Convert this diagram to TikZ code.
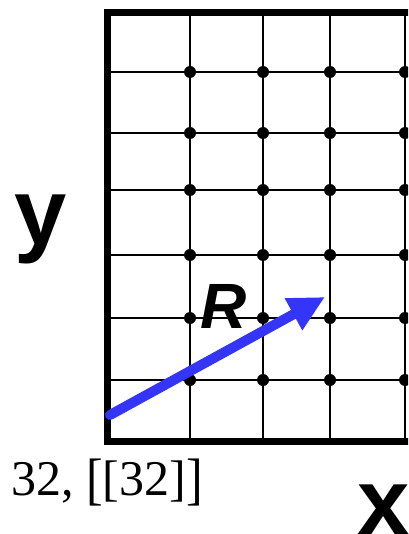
\documentclass[tikz,border=0pt]{standalone}
\usepackage{fontspec}
\setsansfont{Liberation Sans}
\newfontfamily\idxfont{Liberation Serif}
\usepackage{tikz}
\usetikzlibrary{arrows.meta}
\definecolor{vecblue}{HTML}{3535F7}
\newcommand{\tallbr}[1]{\raisebox{-3pt}{\scalebox{1}[1.14]{#1}}}
\tikzset{
  frame/.style={line width=7pt,black,line join=miter},
  gridline/.style={line width=2.7pt,black},
  vec/.style={-{Triangle[length=36pt,width=34pt]},line width=10pt,vecblue,line cap=round},
  axis/.style={font=\fontsize{94}{94}\selectfont\sffamily\bfseries,inner sep=0pt,anchor=base},
  vname/.style={font=\fontsize{64}{64}\selectfont\sffamily\bfseries\itshape,inner sep=0pt,anchor=base},
  idx/.style={font=\fontsize{50}{60}\selectfont\idxfont,inner sep=0pt,anchor=base west},
}

\begin{document}
\begin{tikzpicture}[x=1pt,y=-1pt]
\useasboundingbox (0,0) rectangle (408,534);
\clip (0,0) rectangle (408,534);
% lattice
\foreach \yy in {72,133,190,255,318,380} \draw[gridline] (107,\yy) -- (408,\yy);
\foreach \xx in {190,263,330,405} \draw[gridline] (\xx,13) -- (\xx,441);
\foreach \xx in {190,263,330,405}
  \foreach \yy in {72,133,190,255,318,380} \fill (\xx,\yy) circle (6pt);
\draw[frame] (412,13) -- (107,13) -- (107,441) -- (412,441);
% vector
\coordinate (tail) at (110,415);
\coordinate (head) at (325,297);
\draw[vec] (tail) -- (head);
\node[vname] (rlab) at (224,328) {R};
% axes and index
\node[axis] (ylab) at (41,244) {y};
\node[axis] (xlab) at (384,534) {x};
\node[idx] (cell) at (11,495) {32, \tallbr{[}[32]\tallbr{]}};
\end{tikzpicture}
\end{document}
